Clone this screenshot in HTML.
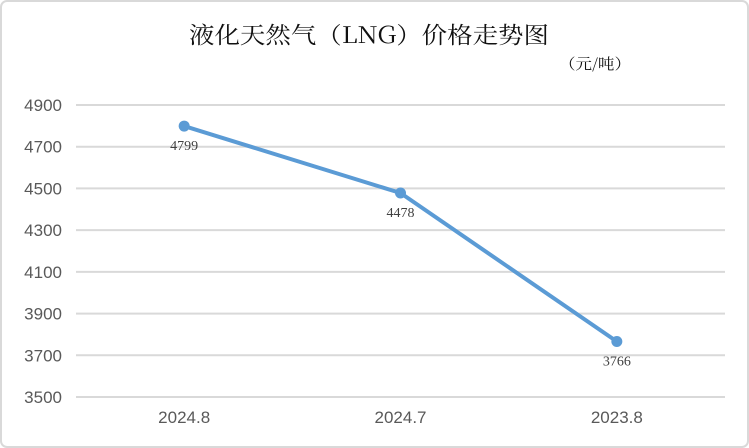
<!DOCTYPE html>
<html><head><meta charset="utf-8"><style>
body{margin:0;background:#fff;}
svg{display:block;font-family:"Liberation Sans","Noto Sans CJK SC",sans-serif;}
</style></head><body>
<svg width="749" height="448" viewBox="0 0 749 448">
<rect x="1" y="1" width="747" height="446" rx="6" fill="#fff" stroke="#d9d9d9" stroke-width="2"/>
<text x="369" y="43" text-anchor="middle" font-size="23" textLength="360" lengthAdjust="spacingAndGlyphs" font-family="'Noto Serif CJK SC','Liberation Serif',serif" fill="#111">液化天然气（LNG）价格走势图</text>
<text x="595" y="69" text-anchor="middle" font-size="15" textLength="72" lengthAdjust="spacingAndGlyphs" font-family="'Noto Serif CJK SC','Liberation Serif',serif" fill="#111">（元/吨）</text>
<g id="grid"></g><g id="yt"></g><g id="xt"></g><g id="series"></g>
</svg>
<script>
const categories=["2024.8","2024.7","2023.8"];
const prices=[4799,4478,3766];
const yTicks=[3500,3700,3900,4100,4300,4500,4700,4900];
const NS="http://www.w3.org/2000/svg";
const x0=76,x1=725,yMin=3500,yMax=4900,yB=397,yT=105;
function y(v){return yB-(v-yMin)/(yMax-yMin)*(yB-yT);}
function x(i){return x0+(i+0.5)*(x1-x0)/categories.length;}
function mk(t,a,p){const e=document.createElementNS(NS,t);for(const k in a)e.setAttribute(k,a[k]);p.appendChild(e);return e;}
const g=document.getElementById('grid'),yt=document.getElementById('yt'),xt=document.getElementById('xt'),s=document.getElementById('series');
yTicks.forEach(v=>{
 const l=mk('line',{x1:x0,x2:x1,y1:y(v),y2:y(v),stroke:'#d9d9d9','stroke-width':2},g);
 
 
 const t=mk('text',{x:62,y:y(v)+6,'text-anchor':'end','font-size':17,fill:'#595959'},yt);
 t.textContent=v;
 
 
});
categories.forEach((c,i)=>{
 const t=mk('text',{x:x(i),y:423,'text-anchor':'middle','font-size':17,fill:'#595959'},xt);
 t.textContent=c;
 
 
});
const pl=mk('polyline',{points:prices.map((v,i)=>x(i)+','+y(v)).join(' '),fill:'none',stroke:'#5b9bd5','stroke-width':4,'stroke-linejoin':'round'},s);


prices.forEach((v,i)=>{
 const c=mk('circle',{cx:x(i),cy:y(v),r:5.5,fill:'#5b9bd5'},s);
 
 
 const t=mk('text',{x:x(i),y:y(v)+24,'text-anchor':'middle','font-size':14,fill:'#404040','font-family':"'Liberation Serif',serif"},s);
 t.textContent=v;
 
 
});
</script>
</body></html>
